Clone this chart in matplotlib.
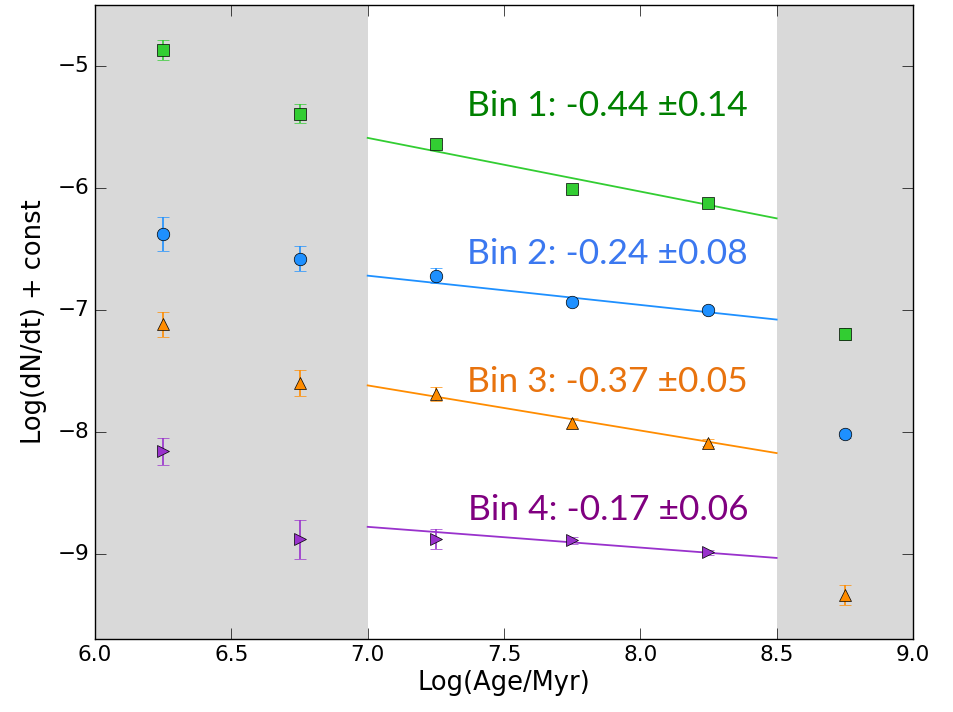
import matplotlib
matplotlib.use('Agg')
import matplotlib.pyplot as plt
import numpy as np

plt.style.use('classic')

# log age bin centres
age = [6.25, 6.75, 7.25, 7.75, 8.25, 8.75]

bin1 = [-4.87, -5.39, -5.64, -6.01, -6.12, -7.20]
bin1_err = [0.08, 0.08, 0.03, 0.02, 0.02, 0.05]
bin2 = [-6.38, -6.58, -6.72, -6.94, -7.00, -8.02]
bin2_err = [0.14, 0.10, 0.06, 0.02, 0.02, 0.03]
bin3 = [-7.12, -7.60, -7.69, -7.93, -8.09, -9.34]
bin3_err = [0.10, 0.11, 0.06, 0.04, 0.03, 0.08]
bin4 = [-8.16, -8.88, -8.88, -8.89, -8.99]
bin4_err = [0.11, 0.16, 0.08, 0.03, 0.02]

# fitted slopes and their values at log age 7.0
slopes = [-0.44, -0.24, -0.37, -0.17]
slope_err = [0.14, 0.08, 0.05, 0.06]
icpt = [-5.59, -6.72, -7.62, -8.78]
label_y = [-5.33, -6.54, -7.59, -8.64]

colors = ['limegreen', 'dodgerblue', 'darkorange', 'darkorchid']
text_colors = ['green', '#3b78f0', '#e8730e', 'purple']
markers = ['s', 'o', '^', '>']

fig = plt.figure(figsize=(9.54, 7.12), dpi=100, facecolor='white')
ax = fig.add_axes([0.0996, 0.1025, 0.8574, 0.8905])

ax.axvspan(6.0, 7.0, color='#d9d9d9', lw=0, zorder=0)
ax.axvspan(8.5, 9.0, color='#d9d9d9', lw=0, zorder=0)

data = [(bin1, bin1_err), (bin2, bin2_err), (bin3, bin3_err), (bin4, bin4_err)]
xfit = np.array([7.0, 8.5])
for i, (y, e) in enumerate(data):
    ax.errorbar(age[:len(y)], y, yerr=e, fmt=markers[i], color=colors[i],
                mfc=colors[i], mec='black', ms=9, capsize=4, elinewidth=1.2,
                zorder=3)
    ax.plot(xfit, icpt[i] + slopes[i] * (xfit - 7.0), color=colors[i],
            lw=1.3, zorder=2)
    ax.text(8.395, label_y[i], 'Bin %d: %.2f \u00b1%.2f' % (i + 1, slopes[i], slope_err[i]),
            color=text_colors[i], fontsize=25.5, ha='right', va='center',
            family=['Lato', 'DejaVu Sans'])

ax.set_xlim(6.0, 9.0)
ax.set_ylim(-9.7, -4.5)
ax.set_xticks([6.0, 6.5, 7.0, 7.5, 8.0, 8.5, 9.0])
ax.set_yticks([-9, -8, -7, -6, -5])
ax.tick_params(labelsize=15.5, length=8)
ax.set_xlabel('Log(Age/Myr)', fontsize=18.5, labelpad=4)
ax.set_ylabel('Log(dN/dt) + const', fontsize=18.5, labelpad=8)

fig.savefig('out.png', dpi=100, facecolor='white')
